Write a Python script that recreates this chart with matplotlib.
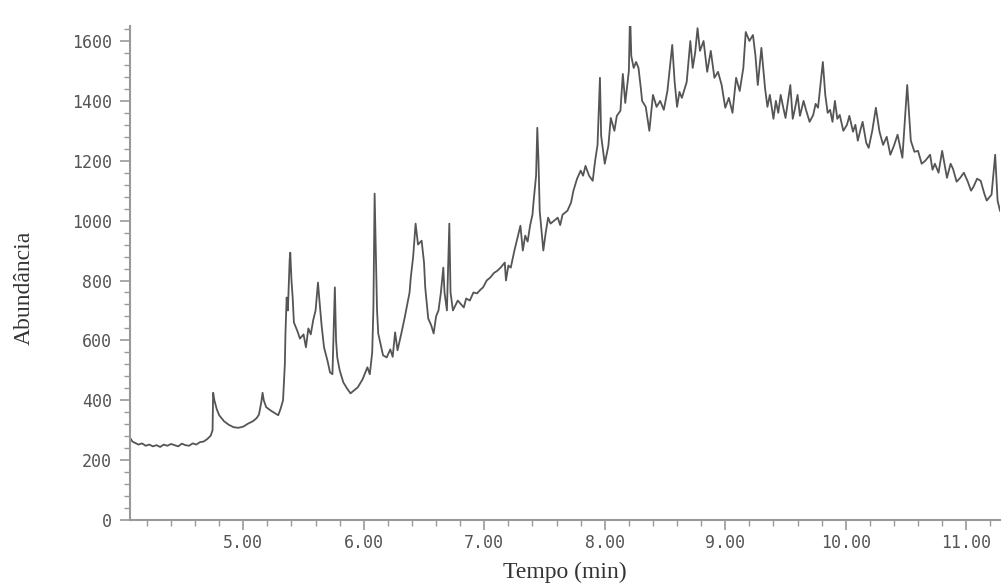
import matplotlib
matplotlib.use("Agg")
import matplotlib.pyplot as plt
from matplotlib.ticker import MultipleLocator, FormatStrFormatter

# retention time (min) and abundance
tempo = [4.06, 4.08, 4.10, 4.13, 4.16, 4.19, 4.22, 4.25, 4.28, 4.31, 4.34, 4.37,
         4.40, 4.43, 4.46, 4.49, 4.52, 4.55, 4.58, 4.61, 4.64, 4.67, 4.70, 4.73,
         4.745, 4.75, 4.76, 4.78, 4.80, 4.84, 4.88, 4.92, 4.96, 5.00, 5.04, 5.08,
         5.11, 5.13, 5.15, 5.16, 5.17, 5.19, 5.23, 5.27, 5.29, 5.31, 5.33, 5.345,
         5.35, 5.36, 5.37, 5.385, 5.39, 5.40, 5.41, 5.42, 5.45, 5.47, 5.50, 5.52,
         5.54, 5.56, 5.58, 5.60, 5.62, 5.63, 5.65, 5.67, 5.70, 5.72, 5.74, 5.76,
         5.77, 5.78, 5.80, 5.83, 5.86, 5.89, 5.91, 5.95, 5.99, 6.03, 6.05, 6.07,
         6.08, 6.09, 6.10, 6.11, 6.12, 6.16, 6.19, 6.22, 6.24, 6.26, 6.28, 6.31,
         6.34, 6.38, 6.39, 6.41, 6.43, 6.45, 6.48, 6.50, 6.51, 6.535, 6.56, 6.58,
         6.60, 6.62, 6.64, 6.66, 6.67, 6.69, 6.71, 6.72, 6.74, 6.78, 6.83, 6.85,
         6.88, 6.91, 6.94, 6.97, 6.99, 7.02, 7.05, 7.08, 7.11, 7.14, 7.17, 7.18,
         7.20, 7.22, 7.25, 7.27, 7.30, 7.32, 7.34, 7.36, 7.38, 7.40, 7.41, 7.43,
         7.44, 7.45, 7.46, 7.49, 7.51, 7.53, 7.55, 7.58, 7.61, 7.63, 7.65, 7.69,
         7.72, 7.74, 7.77, 7.80, 7.82, 7.84, 7.87, 7.90, 7.92, 7.94, 7.96, 7.97,
         8.00, 8.03, 8.05, 8.08, 8.10, 8.13, 8.15, 8.17, 8.20, 8.21, 8.22, 8.24,
         8.26, 8.28, 8.30, 8.31, 8.34, 8.37, 8.40, 8.43, 8.46, 8.49, 8.52, 8.56,
         8.58, 8.60, 8.62, 8.64, 8.68, 8.71, 8.73, 8.75, 8.77, 8.79, 8.82, 8.85,
         8.88, 8.91, 8.94, 8.97, 9.00, 9.03, 9.06, 9.09, 9.12, 9.15, 9.17, 9.20,
         9.23, 9.25, 9.27, 9.30, 9.33, 9.35, 9.37, 9.40, 9.42, 9.44, 9.46, 9.48,
         9.50, 9.54, 9.56, 9.58, 9.60, 9.62, 9.65, 9.67, 9.70, 9.73, 9.75, 9.77,
         9.81, 9.83, 9.85, 9.87, 9.89, 9.91, 9.93, 9.95, 9.98, 10.01, 10.03, 10.06,
         10.08, 10.10, 10.12, 10.14, 10.17, 10.19, 10.22, 10.25, 10.28, 10.31, 10.34, 10.37,
         10.40, 10.43, 10.47, 10.51, 10.54, 10.57, 10.60, 10.63, 10.66, 10.70, 10.72, 10.74,
         10.77, 10.80, 10.84, 10.87, 10.89, 10.92, 10.95, 10.98, 11.01, 11.04, 11.06, 11.09,
         11.12, 11.15, 11.17, 11.21, 11.24, 11.26, 11.28]

abundancia = [275, 262, 258, 252, 256, 248, 252, 246, 250, 244, 252, 248,
              254, 250, 246, 255, 250, 248, 256, 252, 260, 262, 270, 282,
              300, 425, 400, 370, 350, 330, 318, 310, 308, 312, 322, 330,
              340, 352, 395, 425, 400, 377, 365, 355, 350, 372, 400, 520,
              623, 743, 700, 870, 893, 800, 743, 660, 630, 606, 620, 577,
              640, 620, 667, 700, 793, 743, 650, 577, 530, 493, 487, 777,
              600, 543, 500, 460, 440, 423, 430, 443, 470, 510, 487, 560,
              710, 1090, 900, 700, 623, 550, 543, 570, 545, 627, 567, 620,
              677, 760, 810, 880, 990, 920, 933, 860, 777, 673, 650, 623,
              680, 700, 760, 843, 760, 700, 990, 760, 700, 733, 710, 740,
              733, 760, 757, 770, 777, 800, 810, 825, 833, 845, 860, 800,
              850, 843, 900, 933, 983, 900, 950, 930, 983, 1020, 1067, 1150,
              1310, 1200, 1033, 900, 960, 1010, 990, 1000, 1010, 985, 1020, 1033,
              1060, 1100, 1140, 1167, 1150, 1183, 1150, 1133, 1200, 1253, 1477, 1283,
              1190, 1250, 1343, 1300, 1350, 1367, 1490, 1393, 1500, 1700, 1550, 1510,
              1530, 1510, 1440, 1400, 1380, 1300, 1420, 1380, 1400, 1370, 1433, 1587,
              1463, 1380, 1430, 1410, 1463, 1600, 1510, 1560, 1643, 1567, 1600, 1497,
              1567, 1477, 1497, 1453, 1377, 1410, 1360, 1477, 1433, 1510, 1630, 1600,
              1620, 1553, 1453, 1577, 1443, 1380, 1420, 1340, 1400, 1360, 1420, 1380,
              1343, 1453, 1340, 1377, 1420, 1350, 1400, 1370, 1330, 1353, 1390, 1377,
              1530, 1420, 1360, 1370, 1330, 1400, 1340, 1353, 1300, 1320, 1350, 1297,
              1320, 1267, 1300, 1330, 1260, 1243, 1300, 1377, 1297, 1253, 1280, 1220,
              1250, 1287, 1210, 1453, 1267, 1230, 1233, 1190, 1200, 1220, 1170, 1190,
              1160, 1233, 1143, 1190, 1173, 1130, 1143, 1160, 1133, 1100, 1113, 1140,
              1133, 1090, 1067, 1087, 1220, 1067, 1033]

x_ticks = [5, 6, 7, 8, 9, 10, 11]
y_ticks = [0, 200, 400, 600, 800, 1000, 1200, 1400, 1600]

fig = plt.figure(figsize=(10.04, 5.86), dpi=100)
ax = fig.add_axes([0.1295, 0.1126, 0.8665, 0.843])

ax.plot(tempo, abundancia, color="#555555", linewidth=1.3)

ax.set_xlim(4.06, 11.28)
ax.set_ylim(0, 1650)
ax.set_xticks(x_ticks)
ax.set_yticks(y_ticks)
ax.xaxis.set_minor_locator(MultipleLocator(0.2))
ax.yaxis.set_minor_locator(MultipleLocator(40))
ax.xaxis.set_major_formatter(FormatStrFormatter("%.2f"))

for s in ["top", "right"]:
    ax.spines[s].set_visible(False)
for s in ["left", "bottom"]:
    ax.spines[s].set_color("#999999")
    ax.spines[s].set_linewidth(1.5)

ax.tick_params(which="major", length=7, width=1.2, color="#999999",
               labelcolor="#555555", labelsize=12)
ax.tick_params(which="minor", length=4, width=1.0, color="#999999")
ax.tick_params(axis="y", pad=6)
ax.tick_params(axis="x", pad=3)
for lab in ax.get_xticklabels() + ax.get_yticklabels():
    lab.set_family("DejaVu Sans Mono")

ax.set_xlabel("Tempo (min)", family="Liberation Serif", fontsize=17, color="#333333")
ax.set_ylabel("Abundância", family="Liberation Serif", fontsize=17, color="#333333")
ax.xaxis.set_label_coords(0.5, -0.085)
ax.yaxis.set_label_coords(-0.11, 0.47)

fig.savefig("out.png", dpi=100)
